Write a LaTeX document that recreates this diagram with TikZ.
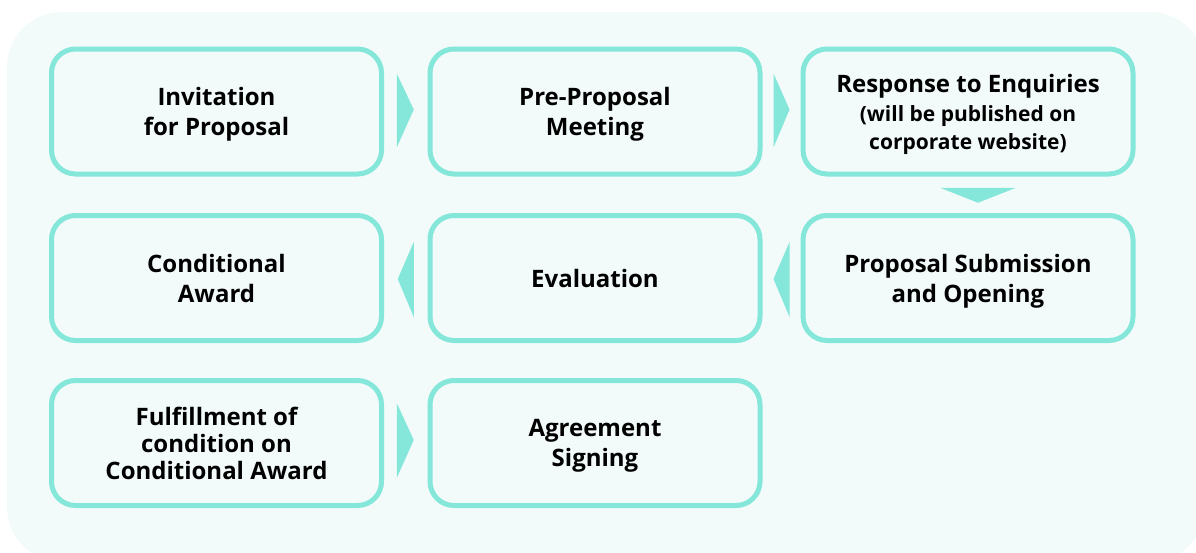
\documentclass[tikz,border=0pt]{standalone}
\usepackage{fontspec}
\setmainfont{Open Sans}
\usetikzlibrary{calc}
\definecolor{teal}{HTML}{85E6DA}
\definecolor{panel}{HTML}{F2FBFA}
\begin{document}
\begin{tikzpicture}[x=1pt,y=-1pt,
  stepbox/.style={draw=teal, line width=5pt, rounded corners=24pt, fill=panel,
    minimum width=330pt, minimum height=125pt, align=center, text depth=0pt,
    font=\fontsize{24}{30}\selectfont\bfseries, text=black},
  chevron/.style={fill=teal, draw=none}]
\useasboundingbox (0,0) rectangle (1196,552);
% light panel behind the flow
\begin{scope}
  \clip (0,0) rectangle (1196,552);
  \fill[panel, rounded corners=55pt] (7,12) rectangle (1205,562);
\end{scope}
% process steps
\node[stepbox] (inv)  at (216.5,111.5) {Invitation\\for Proposal};
\node[stepbox] (pre)  at (595,111.5)   {Pre-Proposal\\Meeting};
\node[stepbox] (resp) at (968,111.5)   {Response to Enquiries\\[-1pt]
  {\fontsize{21}{28}\selectfont (will be published on}\\[-2pt]
  {\fontsize{21}{28}\selectfont corporate website)}};
\node[stepbox] (sub)  at (968,278)     {Proposal Submission\\and Opening};
\node[stepbox] (eval) at (595,278)     {Evaluation};
\node[stepbox] (cond) at (216.5,278)   {Conditional\\Award};
\node[stepbox, font=\fontsize{24}{27}\selectfont\bfseries] (ful) at (216.5,443)
  {Fulfillment of\\condition on\\Conditional Award};
\node[stepbox] (agr)  at (595,443)     {Agreement\\Signing};
% chevrons between consecutive steps
\coordinate (m1) at ($(inv.east)!0.5!(pre.west)$);
\coordinate (m2) at ($(pre.east)!0.5!(resp.west)$);
\coordinate (m3) at ($(resp.south)!0.5!(sub.north)$);
\coordinate (m4) at ($(eval.east)!0.5!(sub.west)$);
\coordinate (m5) at ($(cond.east)!0.5!(eval.west)$);
\coordinate (m6) at ($(ful.east)!0.5!(agr.west)$);
\fill[chevron] ($(m1)+(-9,-38)$) -- ($(m1)+(8,-2)$) -- ($(m1)+(-9,36)$) -- cycle;
\fill[chevron] ($(m2)+(-8,-38)$) -- ($(m2)+(8,-2)$) -- ($(m2)+(-8,36)$) -- cycle;
\fill[chevron] ($(m3)+(-28,-7)$) -- ($(m3)+(48,-7)$) -- ($(m3)+(10,8)$) -- cycle;
\fill[chevron] ($(m4)+(8,-36)$) -- ($(m4)+(-8,1)$) -- ($(m4)+(8,39)$) -- cycle;
\fill[chevron] ($(m5)+(8,-36)$) -- ($(m5)+(-8,1)$) -- ($(m5)+(8,39)$) -- cycle;
\fill[chevron] ($(m6)+(-9,-40)$) -- ($(m6)+(8,-3)$) -- ($(m6)+(-9,35)$) -- cycle;
\end{tikzpicture}
\end{document}
